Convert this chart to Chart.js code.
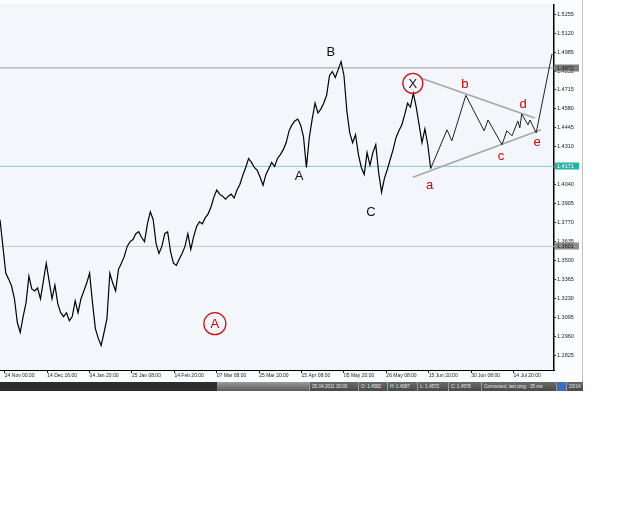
<!DOCTYPE html>
<html>
<head>
<meta charset="utf-8">
<script src="https://cdn.jsdelivr.net/npm/chart.js@4.4.0/dist/chart.umd.min.js"></script>
<style>
html, body { margin: 0; padding: 0; background: #fff; }
#wrap { position: absolute; left: 0; top: 0; width: 583px; height: 382px; background: #fbfcfe; border-right: 1px solid #c4c4c4; box-sizing: border-box; }
#status { position: absolute; left: 0; top: 382px; width: 583px; height: 9px; background: #2e2e2e; font: 4.6px "Liberation Sans", Arial, sans-serif; color: #e8e8e8; }
#status .thumb { position: absolute; left: 217px; top: 0; width: 92px; height: 9px; background: linear-gradient(#9a9a9a, #5c5c5c); }
#status .cell { position: absolute; top: 0; height: 9px; line-height: 9px; background: linear-gradient(#6a6a6a, #4a4a4a); border-left: 1px solid #9a9a9a; box-sizing: border-box; padding-left: 2px; white-space: nowrap; overflow: hidden; }
</style>
</head>
<body>
<div id="wrap"><canvas id="chart" width="582" height="382"></canvas></div>
<div id="status">
  <div class="thumb"></div>
  <div class="cell" style="left:309px;width:49px">25.04.2011 20:00</div>
  <div class="cell" style="left:358px;width:29px">O: 1.4582</div>
  <div class="cell" style="left:387px;width:30px">H: 1.4587</div>
  <div class="cell" style="left:417px;width:31px">L: 1.4572</div>
  <div class="cell" style="left:448px;width:33px">C: 1.4578</div>
  <div class="cell" style="left:481px;width:75px">Connected, last ping - 35 ms</div>
  <div class="cell" style="left:556px;width:10px;background:#3a6fc0"></div>
  <div class="cell" style="left:566px;width:17px">23/14</div>
</div>
<script>
// H4 closes, one value every BAR_STEP bars
const BAR_STEP = 6;
const closes = [
  1.3791, 1.3601, 1.3411, 1.3368, 1.3319, 1.3228, 1.3059, 1.2988, 1.3101, 1.3199,
  1.3389, 1.3298, 1.3284, 1.3305, 1.3228, 1.3354, 1.3481, 1.3354, 1.3228, 1.3326,
  1.3192, 1.3129, 1.3101, 1.3129, 1.3072, 1.3101, 1.3213, 1.3129, 1.3228, 1.3284,
  1.3340, 1.3411, 1.3199, 1.3016, 1.2946, 1.2896, 1.2988, 1.3086, 1.3411, 1.3340,
  1.3284, 1.3438, 1.3481, 1.3530, 1.3601, 1.3635, 1.3650, 1.3692, 1.3706, 1.3664,
  1.3635, 1.3762, 1.3847, 1.3791, 1.3621, 1.3551, 1.3601, 1.3692, 1.3706, 1.3565,
  1.3481, 1.3466, 1.3509, 1.3551, 1.3601, 1.3692, 1.3579, 1.3671, 1.3741, 1.3776,
  1.3762, 1.3804, 1.3833, 1.3882, 1.3952, 1.4002, 1.3973, 1.3959, 1.3938, 1.3959,
  1.3973, 1.3945, 1.4002, 1.4044, 1.4107, 1.4163, 1.4227, 1.4199, 1.4163, 1.4142,
  1.4093, 1.4037, 1.4114, 1.4156, 1.4199, 1.4170, 1.4227, 1.4255, 1.4290, 1.4339,
  1.4424, 1.4466, 1.4494, 1.4508, 1.4466, 1.4382, 1.4163, 1.4375, 1.4508, 1.4621,
  1.4551, 1.4579, 1.4621, 1.4677, 1.4818, 1.4846, 1.4804, 1.4860, 1.4917, 1.4818,
  1.4565, 1.4410, 1.4339, 1.4396, 1.4255, 1.4163, 1.4114, 1.4269, 1.4178, 1.4269,
  1.4325, 1.4128, 1.3987, 1.4086, 1.4149, 1.4220, 1.4290, 1.4375, 1.4424, 1.4466,
  1.4537, 1.4621, 1.4593, 1.4691, 1.4593, 1.4466, 1.4339, 1.4438, 1.4325, 1.4156
];

// projected triangle path (a-b-c-d-e and breakout)
const projBars   = [894, 928, 938, 967, 1005, 1013, 1042, 1052, 1063, 1075, 1079, 1083, 1096, 1100, 1113, 1146];
const projPrices = [1.4156, 1.4431, 1.4353, 1.4677, 1.4424, 1.4501, 1.4325, 1.4424, 1.4389, 1.4494, 1.4445, 1.4544, 1.4466, 1.4501, 1.4410, 1.4973];

// triangle borders
const upperBars = [876, 1110];
const upperPrices = [1.4797, 1.4515];
const lowerBars = [857, 1123];
const lowerPrices = [1.4093, 1.4431];

// horizontal levels
const levelValues = [1.4872, 1.4171, 1.3601];
const levelColors = ['#9a9a9a', '#7fcfc6', '#c8c8c8'];
const levelBoxColors = ['#7d7d7d', '#27b3a3', '#8e8e8e'];
const levelTextColors = ['#1a1a1a', '#ffffff', '#1a1a1a'];

// axes
const dateLabels = ['24 Nov 00:00', '14 Dec 16:00', '04 Jan 20:00', '25 Jan 08:00', '14 Feb 20:00', '07 Mar 08:00', '25 Mar 20:00',
                    '15 Apr 08:00', '05 May 20:00', '26 May 08:00', '15 Jun 20:00', '30 Jun 08:00', '14 Jul 20:00'];
const dateBars = [10, 98, 186, 274, 362, 450, 538, 626, 714, 802, 890, 978, 1066];
const priceTicks = [1.2825, 1.2960, 1.3095, 1.3230, 1.3365, 1.3500, 1.3635, 1.3770, 1.3905, 1.4040,
                    1.4175, 1.4310, 1.4445, 1.4580, 1.4715, 1.4850, 1.4985, 1.5120, 1.5255];

// wave labels
const waveTexts  = ['B', 'A', 'C', 'X', 'a', 'b', 'c', 'd', 'e', 'A'];
const waveBars   = [687, 621, 770, 857, 892, 965, 1040, 1086, 1115, 446];
const wavePrices = [1.4987, 1.4107, 1.3847, 1.4762, 1.4044, 1.4762, 1.4248, 1.4621, 1.4346, 1.3051];
const waveRed    = [false, false, false, false, true, true, true, true, true, true];
const waveCircle = [false, false, false, true, false, false, false, false, false, true];

const lineData = (bars, prices) => bars.map((b, i) => ({ x: b, y: prices[i] }));

const bgPlugin = {
    id: 'bg',
    beforeDraw(chart) {
        const { ctx, chartArea: a } = chart;
        ctx.save();
        ctx.fillStyle = '#f4f6fb';
        ctx.fillRect(a.left, a.top, a.right - a.left, a.bottom - a.top);
        ctx.restore();
    }
};

const markPlugin = {
    id: 'marks',
    afterDraw(chart) {
        const { ctx, chartArea: a } = chart;
        const xs = chart.scales.x, ys = chart.scales.y;
        ctx.save();
        // level price boxes on the axis
        ctx.font = '5.5px "Liberation Sans", Arial, sans-serif';
        ctx.textBaseline = 'middle';
        ctx.textAlign = 'left';
        levelValues.forEach((v, i) => {
            const y = Math.round(ys.getPixelForValue(v));
            ctx.fillStyle = levelBoxColors[i];
            ctx.fillRect(a.right + 1, y - 3.5, 24, 7);
            ctx.fillStyle = levelTextColors[i];
            ctx.fillText(v.toFixed(4), a.right + 3, y + 0.5);
        });
        // wave letters
        ctx.textAlign = 'center';
        ctx.font = '13px "Liberation Sans", Arial, sans-serif';
        waveTexts.forEach((t, i) => {
            const x = xs.getPixelForValue(waveBars[i]);
            const y = ys.getPixelForValue(wavePrices[i]);
            ctx.fillStyle = waveRed[i] ? '#cc0000' : '#111';
            ctx.fillText(t, x, y + 1);
            if (waveCircle[i]) {
                ctx.beginPath();
                ctx.strokeStyle = '#cc1111';
                ctx.lineWidth = 1.3;
                ctx.arc(x, y, i === 9 ? 11 : 10, 0, Math.PI * 2);
                ctx.stroke();
            }
        });
        ctx.restore();
    }
};

new Chart(document.getElementById('chart'), {
    type: 'line',
    data: {
        datasets: [
            { data: closes.map((c, i) => ({ x: i * BAR_STEP, y: c })), borderColor: '#000', borderWidth: 1.2 },
            { data: lineData(projBars, projPrices), borderColor: '#222', borderWidth: 1 },
            { data: lineData(upperBars, upperPrices), borderColor: '#a6a6a6', borderWidth: 1.6 },
            { data: lineData(lowerBars, lowerPrices), borderColor: '#a6a6a6', borderWidth: 1.6 },
            ...levelValues.map((v, i) => ({
                data: [{ x: 0, y: v }, { x: 1150, y: v }],
                borderColor: levelColors[i],
                borderWidth: 1,
                order: 10
            }))
        ]
    },
    options: {
        responsive: false,
        animation: false,
        events: [],
        layout: { padding: 0 },
        elements: { point: { radius: 0 }, line: { tension: 0 } },
        plugins: { legend: { display: false }, tooltip: { enabled: false } },
        scales: {
            x: {
                type: 'linear',
                min: 0,
                max: 1150,
                afterBuildTicks: scale => { scale.ticks = dateBars.map(v => ({ value: v })); },
                afterFit: scale => { scale.height = 12; },
                grid: { display: true, drawOnChartArea: false, color: '#222', tickLength: 3 },
                border: { display: true, color: '#000', width: 1 },
                ticks: {
                    autoSkip: false,
                    maxRotation: 0,
                    align: 'start',
                    padding: 0,
                    color: '#222',
                    font: { family: '"Liberation Sans", Arial, sans-serif', size: 5 },
                    callback: v => dateLabels[dateBars.indexOf(v)]
                }
            },
            y: {
                position: 'right',
                min: 1.2721,
                max: 1.5325,
                afterBuildTicks: scale => { scale.ticks = priceTicks.map(v => ({ value: v })); },
                afterFit: scale => { scale.width = 28; },
                grid: { display: true, drawOnChartArea: false, color: '#222', tickLength: 2 },
                border: { display: true, color: '#000', width: 1.5 },
                ticks: {
                    padding: 1,
                    color: '#222',
                    font: { family: '"Liberation Sans", Arial, sans-serif', size: 5.5 },
                    callback: v => v.toFixed(4)
                }
            }
        }
    },
    plugins: [bgPlugin, markPlugin]
});
</script>
</body>
</html>
